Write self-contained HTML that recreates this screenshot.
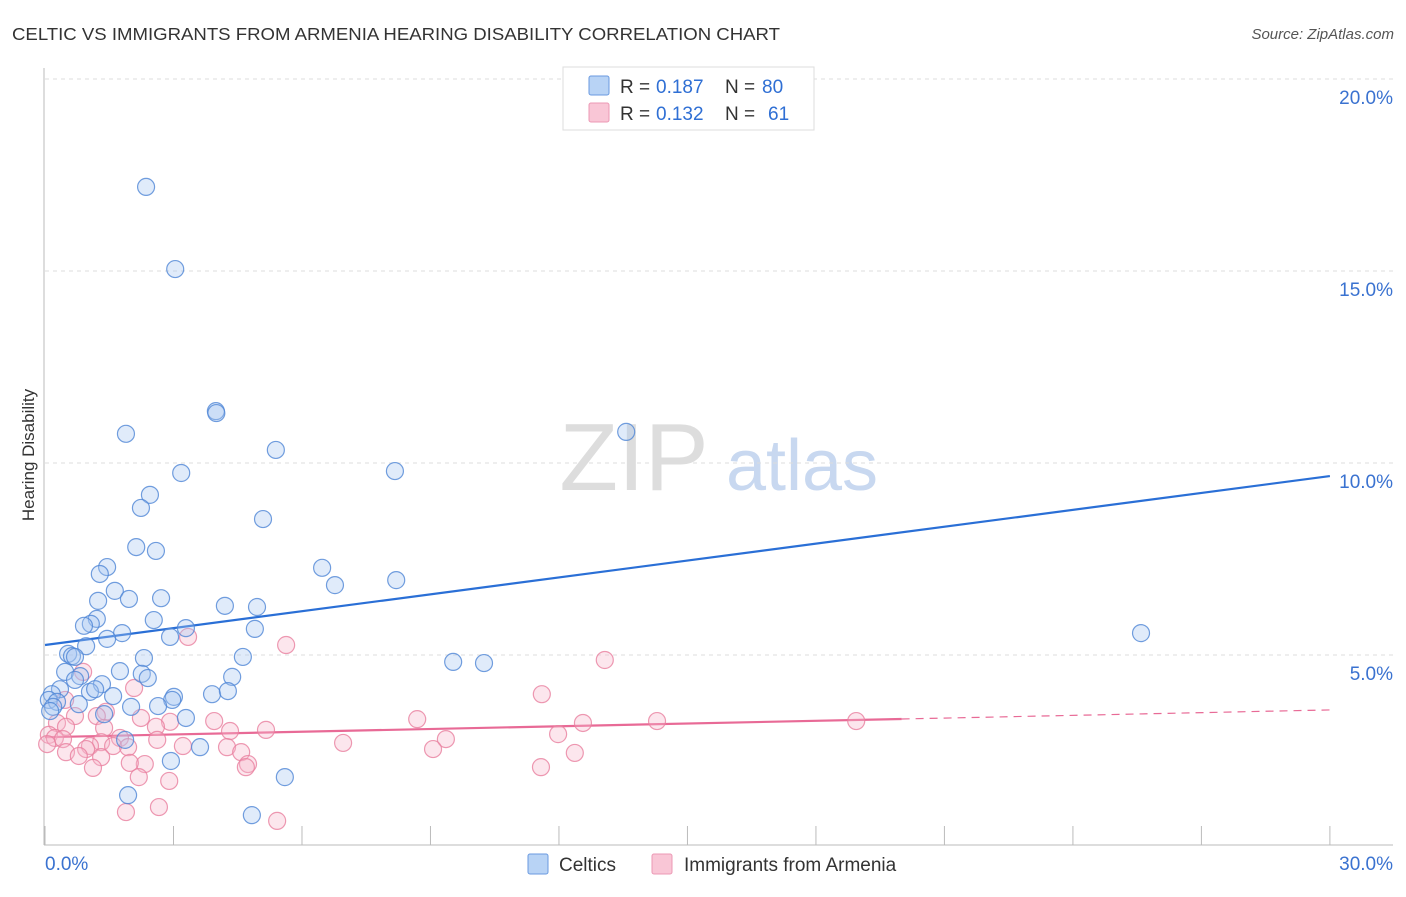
<!DOCTYPE html>
<html><head><meta charset="utf-8"><style>
body{margin:0;background:#fff;font-family:"Liberation Sans",sans-serif;}
svg text{font-family:"Liberation Sans",sans-serif;}
</style></head><body>
<svg id="chart" width="1406" height="892">
<text x="12" y="40" font-size="17.5" fill="#333" textLength="768" lengthAdjust="spacingAndGlyphs">CELTIC VS IMMIGRANTS FROM ARMENIA HEARING DISABILITY CORRELATION CHART</text>
<text x="1394" y="39" font-size="15" fill="#555" font-style="italic" text-anchor="end">Source: ZipAtlas.com</text>
<text x="634" y="490" font-size="96" fill="#ddd" font-family="Liberation Serif" text-anchor="middle">ZIP</text>
<text x="802" y="490" font-size="72" fill="#c8d8f0" text-anchor="middle">atlas</text>
<text x="34" y="455" font-size="17" fill="#333" text-anchor="middle" transform="rotate(-90 34 455)">Hearing Disability</text>
<g id="grid"></g><g id="axes"></g><g id="lines"></g><g id="pts"></g>
<g>
<rect x="563" y="67" width="251" height="63" fill="#fff" stroke="#ddd"/>
<rect x="589" y="76" width="20" height="19" fill="#b8d3f5" stroke="#6a9ae0" rx="2"/>
<rect x="589" y="103" width="20" height="19" fill="#f9c6d6" stroke="#ec98b4" rx="2"/>
<text x="620" y="93" font-size="19" fill="#333">R =</text>
<text x="656" y="93" font-size="19" fill="#2f6fd4">0.187</text>
<text x="725" y="93" font-size="19" fill="#333">N =</text>
<text x="762" y="93" font-size="19" fill="#2f6fd4">80</text>
<text x="620" y="120" font-size="19" fill="#333">R =</text>
<text x="656" y="120" font-size="19" fill="#2f6fd4">0.132</text>
<text x="725" y="120" font-size="19" fill="#333">N =</text>
<text x="768" y="120" font-size="19" fill="#2f6fd4">61</text>
</g>
<g>
<rect x="528" y="854" width="20" height="20" fill="#b8d3f5" stroke="#6a9ae0" rx="2"/>
<text x="559" y="871" font-size="19" fill="#333">Celtics</text>
<rect x="652" y="854" width="20" height="20" fill="#f9c6d6" stroke="#ec98b4" rx="2"/>
<text x="684" y="871" font-size="19" fill="#333">Immigrants from Armenia</text>
</g>
</svg>
<script>
const blueX=[2.36,3.04,3.99,4.0,1.89,13.57,5.39,3.18,8.17,2.45,2.24,5.09,2.13,2.59,1.45,1.28,6.47,6.77,8.20,1.63,1.24,1.96,2.71,4.20,4.95,1.21,2.54,1.07,0.91,1.80,1.45,3.29,2.92,4.90,0.96,0.54,0.63,0.70,2.31,4.62,9.53,10.25,25.59,0.47,1.75,2.26,0.82,0.70,1.33,2.40,4.37,0.35,1.05,1.17,1.59,3.01,2.97,3.90,4.27,0.16,0.09,0.28,0.19,0.79,2.01,2.64,1.38,0.12,3.29,1.87,3.62,2.94,5.60,1.94,4.83];
const blueY=[17.19,15.05,11.35,11.30,10.76,10.81,10.34,9.74,9.79,9.17,8.83,8.54,7.81,7.71,7.29,7.11,7.27,6.82,6.95,6.67,6.41,6.46,6.48,6.28,6.25,5.94,5.91,5.81,5.76,5.57,5.42,5.70,5.47,5.68,5.23,5.03,4.97,4.95,4.92,4.95,4.82,4.79,5.57,4.56,4.58,4.51,4.45,4.35,4.24,4.40,4.43,4.11,4.04,4.11,3.93,3.91,3.83,3.98,4.06,3.98,3.83,3.78,3.65,3.72,3.65,3.67,3.46,3.54,3.36,2.79,2.60,2.24,1.82,1.35,0.83];
const pinkX=[5.63,13.07,3.34,0.89,2.08,11.60,0.47,1.42,0.70,1.21,8.69,12.56,14.29,18.94,2.24,2.92,3.95,2.59,0.28,0.49,1.38,4.32,5.16,11.98,0.09,0.23,0.42,1.75,1.31,2.62,9.36,6.96,1.05,0.96,1.59,3.22,1.94,9.06,4.25,0.05,0.49,4.58,0.79,1.31,12.37,2.33,1.98,4.74,4.69,1.12,11.58,2.19,2.90,2.66,1.89,5.42];
const pinkY=[5.26,4.87,5.47,4.56,4.14,3.98,3.83,3.52,3.41,3.41,3.33,3.23,3.28,3.28,3.36,3.26,3.28,3.13,3.23,3.13,3.10,3.02,3.05,2.94,2.92,2.84,2.81,2.84,2.73,2.79,2.81,2.71,2.63,2.55,2.63,2.63,2.60,2.55,2.60,2.68,2.47,2.47,2.37,2.34,2.45,2.16,2.19,2.16,2.08,2.06,2.08,1.82,1.72,1.04,0.91,0.68];
const blueTrend=[5.26,9.66];
const pinkTrend=[2.86,3.57];
const yTicks=[5,10,15,20];
const xTickVals=[0,3,6,9,12,15,18,21,24,27,30];
const NS="http://www.w3.org/2000/svg";
const sx=v=>45+v*42.83, sy=v=>847-v*38.4;
function mk(p,tag,a){const e=document.createElementNS(NS,tag);for(const k in a)e.setAttribute(k,a[k]);document.getElementById(p).appendChild(e);return e;}
yTicks.forEach(t=>{
 const g=mk('grid','line',{x1:45,x2:1393,y1:sy(t),y2:sy(t),stroke:'#ddd','stroke-dasharray':'4,4'});
 
 
 const tx=mk('axes','text',{x:1393,y:sy(t)+25,'font-size':19,fill:'#3a72d0','text-anchor':'end'});
 tx.textContent=t.toFixed(1)+'%';
 
 
});
const ax=mk('axes','line',{x1:44,x2:44,y1:68,y2:845,stroke:'#bbb'});


const bx=mk('axes','line',{x1:44,x2:1393,y1:845,y2:845,stroke:'#bbb'});


xTickVals.forEach(t=>{
 const l=mk('axes','line',{x1:sx(t),x2:sx(t),y1:826,y2:845,stroke:'#bbb'});
 
 
});
[[0,'start'],[30,'end']].forEach(([t,a])=>{
 const tx=mk('axes','text',{x:t==0?45:1393,y:870,'font-size':19,fill:'#3a72d0','text-anchor':a});
 tx.textContent=t.toFixed(1)+'%';
 
 
});
function dots(X,Y,fill,stroke,name){
 X.forEach((x,i)=>{
  const c=mk('pts','circle',{cx:sx(x),cy:sy(Y[i]),r:8.5,fill:fill,'fill-opacity':0.35,stroke:stroke,'stroke-opacity':0.8,'stroke-width':1.2});
  
  
 });
}
dots(pinkX,pinkY,'#f7b6ca','#e8809f','armenia-point');
dots(blueX,blueY,'#a7c7f0','#4f86d6','celtic-point');
const bl=mk('lines','line',{x1:sx(0),y1:sy(blueTrend[0]),x2:sx(30),y2:sy(blueTrend[1]),stroke:'#2a6fd6','stroke-width':2.2});


const pm=pinkTrend[0]+(pinkTrend[1]-pinkTrend[0])*20/30;
const pl=mk('lines','line',{x1:sx(0),y1:sy(pinkTrend[0]),x2:sx(20),y2:sy(pm),stroke:'#e86a96','stroke-width':2.2});


const pd=mk('lines','line',{x1:sx(20),y1:sy(pm),x2:sx(30),y2:sy(pinkTrend[1]),stroke:'#e86a96','stroke-width':1.2,'stroke-dasharray':'8,6'});


</script>
</body></html>
